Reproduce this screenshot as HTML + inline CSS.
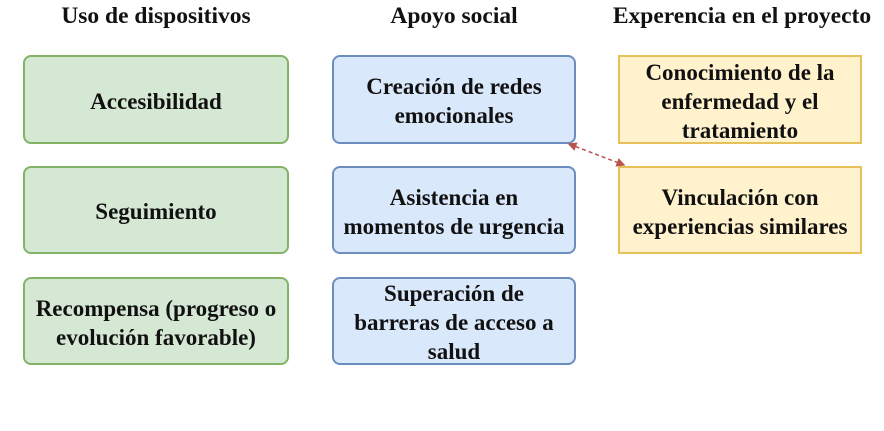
<!DOCTYPE html>
<html><head><style>
body{margin:0;width:884px;height:431px;background:#fff;position:relative;font-family:"Liberation Serif",serif;font-weight:bold;color:#111;overflow:hidden}
.t{position:absolute;top:3px;font-size:23.5px;text-align:center;white-space:nowrap}
.b{position:absolute;box-sizing:border-box;display:flex;align-items:center;justify-content:center;text-align:center;font-size:23px;line-height:29px;white-space:nowrap;padding-top:3px}
.g{background:#d5e8d4;border:2px solid #82b366;border-radius:8px;left:23px;width:266px}
.u{background:#dae8fc;border:2px solid #6c8ebf;border-radius:8px;left:332px;width:244px}
.y{background:#fff2cc;border:2px solid #e6c15a;left:618px;width:244px}
</style></head><body>
<div class="t" style="left:23px;width:266px">Uso de dispositivos</div>
<div class="t" style="left:332px;width:244px">Apoyo social</div>
<div class="t" style="left:600px;width:284px">Experencia en el proyecto</div>

<div class="b g" style="top:55px;height:89px">Accesibilidad</div>
<div class="b g" style="top:166px;height:88px">Seguimiento</div>
<div class="b g" style="top:277px;height:88px">Recompensa (progreso o<br>evolución favorable)</div>

<div class="b u" style="top:55px;height:89px">Creación de redes<br>emocionales</div>
<div class="b u" style="top:166px;height:88px">Asistencia en<br>momentos de urgencia</div>
<div class="b u" style="top:277px;height:88px">Superación de<br>barreras de acceso a<br>salud</div>

<div class="b y" style="top:55px;height:89px">Conocimiento de la<br>enfermedad y el<br>tratamiento</div>
<div class="b y" style="top:166px;height:88px">Vinculación con<br>experiencias similares</div>

<svg style="position:absolute;left:0;top:0" width="884" height="431">
<defs><marker id="a" markerWidth="6" markerHeight="6" refX="5" refY="3" orient="auto-start-reverse"><path d="M0,0L6,3L0,6z" fill="#b85450"/></marker></defs>
<line x1="569" y1="144" x2="624" y2="165" stroke="#b85450" stroke-width="1.5" stroke-dasharray="4,3" marker-start="url(#a)" marker-end="url(#a)"/>
</svg>
</body></html>
